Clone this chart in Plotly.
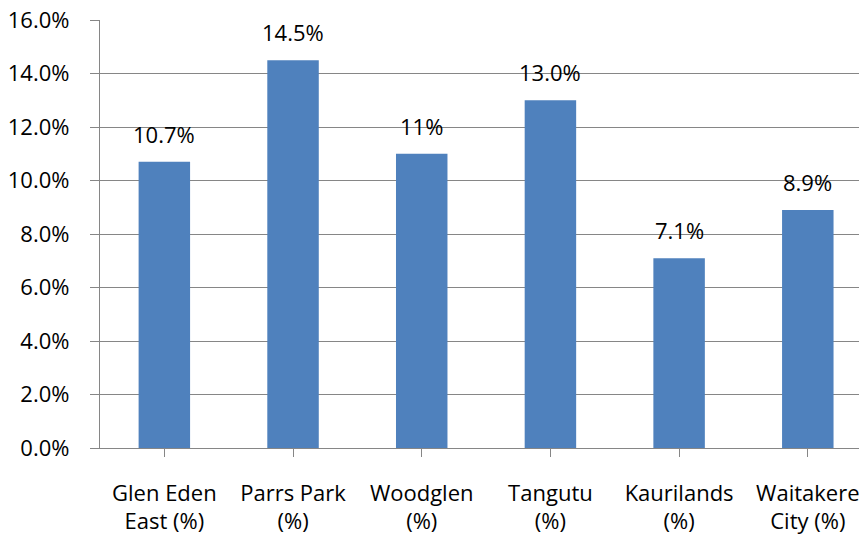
import plotly.graph_objects as go

# data
suburbs = ["Glen Eden<br>East (%)", "Parrs Park<br>(%)", "Woodglen<br>(%)",
           "Tangutu<br>(%)", "Kaurilands<br>(%)", "Waitakere<br>City (%)"]
values = [10.7, 14.5, 11.0, 13.0, 7.1, 8.9]
value_labels = ["10.7%", "14.5%", "11%", "13.0%", "7.1%", "8.9%"]
y_ticks = [0, 2, 4, 6, 8, 10, 12, 14, 16]

grey = "#868686"
font = dict(family="Open Sans", size=22, color="black")

fig = go.Figure()
fig.add_trace(
    go.Bar(
        x=list(range(len(suburbs))),
        y=values,
        width=0.4,
        marker=dict(color="#4F81BD", line=dict(width=0)),
        hoverinfo="skip",
    )
)

# value labels above each bar
for i, (v, t) in enumerate(zip(values, value_labels)):
    fig.add_annotation(
        x=i, y=v, text=t, showarrow=False,
        xanchor="center", yanchor="bottom", yshift=11,
        font=font,
    )

# page body has an 8px margin, so the figure is a bit smaller than the window
fig.update_layout(
    width=859,
    height=530,
    margin=dict(l=92, r=0, t=12, b=90, autoexpand=False),
    plot_bgcolor="white",
    paper_bgcolor="white",
    showlegend=False,
    font=font,
    xaxis=dict(
        tickmode="array",
        tickvals=list(range(len(suburbs))),
        ticktext=suburbs,
        range=[-0.5, 5.46],
        automargin=False,
        showgrid=False,
        zeroline=False,
        showline=True,
        linecolor=grey,
        linewidth=1.3,
        ticks="outside",
        ticklen=8,
        tickcolor=grey,
        tickwidth=1.3,
        ticklabelstandoff=17,
        tickfont=font,
    ),
    yaxis=dict(
        range=[0, 16.005],
        tickmode="array",
        tickvals=y_ticks,
        ticktext=[f"{t:.1f}%" for t in y_ticks],
        ticklabeloverflow="allow",
        automargin=False,
        showgrid=True,
        gridcolor=grey,
        gridwidth=1.3,
        zeroline=False,
        showline=True,
        linecolor=grey,
        linewidth=1.3,
        ticks="outside",
        ticklen=9,
        tickcolor=grey,
        tickwidth=1.3,
        ticklabelstandoff=16,
        tickfont=font,
    ),
)

fig.write_html("out.html")
